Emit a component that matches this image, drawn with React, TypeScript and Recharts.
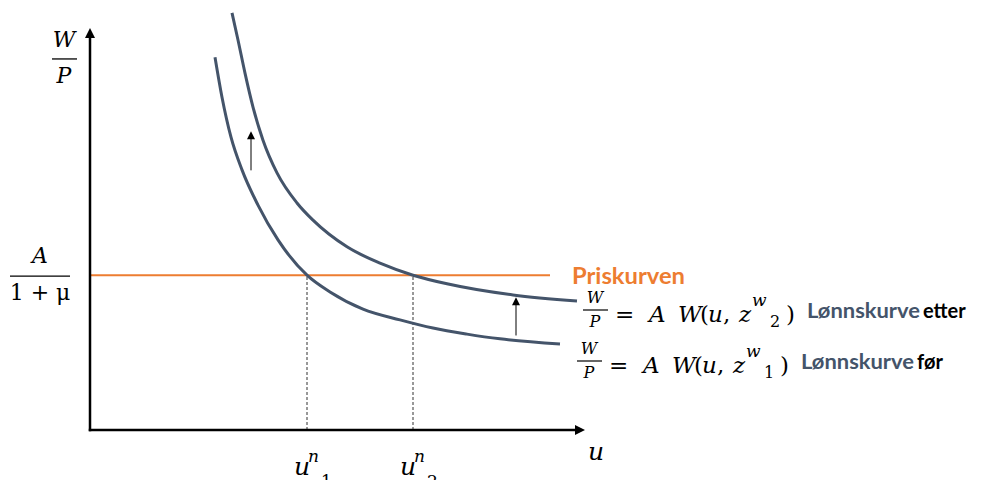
import React from 'react';
import { LineChart, Line, XAxis, YAxis, ReferenceLine, ReferenceDot } from 'recharts';

// Both axes run 0..10 (u on x, W/P on y)
const wageCurveBefore = [
  { x: 2.5, y: 8.67 },
  { x: 2.64, y: 7.74 },
  { x: 2.82, y: 6.81 },
  { x: 3.04, y: 6.05 },
  { x: 3.36, y: 5.23 },
  { x: 3.76, y: 4.42 },
  { x: 4.34, y: 3.6 },
  { x: 4.8, y: 3.21 },
  { x: 5.46, y: 2.81 },
  { x: 6.2, y: 2.56 },
  { x: 6.86, y: 2.37 },
  { x: 7.54, y: 2.23 },
  { x: 8.2, y: 2.12 },
  { x: 9.4, y: 2.0 },
];

const wageCurveAfter = [
  { x: 2.84, y: 9.7 },
  { x: 2.96, y: 9.07 },
  { x: 3.1, y: 8.3 },
  { x: 3.26, y: 7.51 },
  { x: 3.46, y: 6.74 },
  { x: 3.74, y: 5.98 },
  { x: 4.14, y: 5.28 },
  { x: 4.46, y: 4.88 },
  { x: 5.14, y: 4.26 },
  { x: 5.8, y: 3.88 },
  { x: 6.46, y: 3.6 },
  { x: 7.14, y: 3.4 },
  { x: 8.46, y: 3.14 },
  { x: 9.74, y: 3.0 },
];

const priceLevel = 3.6;
const priceCurveEnd = 9.2;
const naturalRates = [4.34, 6.46];
const naturalRateLabels = ['1', '2'];
const axisEnds = { x: 9.9, y: 9.35 };
// shift arrows between the curves: x, from y, to y
const shiftArrows = [
  { x: 3.22, from: 6.05, to: 6.95 },
  { x: 8.52, from: 2.21, to: 3.09 },
];

const MATH = "'DejaVu Serif', serif";
const SANS = "Lato, 'Open Sans', sans-serif";
const CURVE = '#44546A';
const ORANGE = '#ED7D31';

const arrowShape = (width: number, head: number, half: number) => (p: any) => {
  const x1 = Number(p.x1), y1 = Number(p.y1), x2 = Number(p.x2), y2 = Number(p.y2);
  const dx = x2 - x1, dy = y2 - y1;
  const len = Math.hypot(dx, dy) || 1;
  const ux = dx / len, uy = dy / len;
  const bx = x2 - ux * head, by = y2 - uy * head;
  return (
    <g>
      <line x1={x1} y1={y1} x2={bx} y2={by} stroke="#000" strokeWidth={width} strokeLinecap="square" />
      <polygon
        points={`${x2},${y2} ${bx - uy * half},${by + ux * half} ${bx + uy * half},${by - ux * half}`}
        fill="#000"
      />
    </g>
  );
};

const equationShape = (digit: string, word: string, dx: number, dy: number) => (p: any) => {
  const fx = p.cx + dx, fy = p.cy + dy;
  return (
    <g fontFamily={MATH} fill="#000">
      <text x={fx + 12} y={fy - 7} fontSize={16} fontStyle="italic" textAnchor="middle">W</text>
      <line x1={fx} x2={fx + 25} y1={fy} y2={fy} stroke="#000" strokeWidth={1.2} />
      <text x={fx + 12} y={fy + 17} fontSize={16} fontStyle="italic" textAnchor="middle">P</text>
      <text x={fx + 32} y={fy + 12} fontSize={23}>=</text>
      <text x={fx + 66} y={fy + 12} fontSize={23} fontStyle="italic">A</text>
      <text x={fx + 95} y={fy + 12} fontSize={23} fontStyle="italic">W</text>
      <text x={fx + 117} y={fy + 12} fontSize={23}>(</text>
      <text x={fx + 125} y={fy + 12} fontSize={23} fontStyle="italic">u</text>
      <text x={fx + 140} y={fy + 12} fontSize={23}>,</text>
      <text x={fx + 156} y={fy + 12} fontSize={23} fontStyle="italic">z</text>
      <text x={fx + 169} y={fy - 4} fontSize={17} fontStyle="italic">w</text>
      <text x={fx + 187} y={fy + 17} fontSize={16}>{digit}</text>
      <text x={fx + 203} y={fy + 12} fontSize={23}>)</text>
      <text x={fx + 224} y={fy + 8} fontSize={20} fontFamily={SANS} fontWeight="bold" fill={CURVE} textLength={113} lengthAdjust="spacingAndGlyphs">
        Lønnskurve
      </text>
      <text x={fx + 340} y={fy + 8} fontSize={20} fontFamily={SANS} fontWeight="bold" fill="#000">
        {word}
      </text>
    </g>
  );
};

const priceLabelShape = (p: any) => (
  <text x={p.cx + 22} y={p.cy + 9} fontSize={22} fontFamily={SANS} fontWeight="bold" fill={ORANGE} textLength={113} lengthAdjust="spacingAndGlyphs">
    Priskurven
  </text>
);

const yTitleShape = (p: any) => (
  <g fontFamily={MATH} fontStyle="italic" fontSize={22} fill="#000">
    <text x={p.cx - 26} y={p.cy + 19} textAnchor="middle">W</text>
    <line x1={p.cx - 38} x2={p.cx - 13} y1={p.cy + 31} y2={p.cy + 31} stroke="#000" strokeWidth={1.3} />
    <text x={p.cx - 26} y={p.cy + 55} textAnchor="middle">P</text>
  </g>
);

const xTitleShape = (p: any) => (
  <text x={p.cx + 3} y={p.cy + 30} fontFamily={MATH} fontStyle="italic" fontSize={25} fill="#000">u</text>
);

const PriceTick = (p: any) => (
  <g fontFamily={MATH} fontSize={22} fill="#000">
    <text x={p.x - 50} y={p.y - 12} fontStyle="italic" textAnchor="middle">A</text>
    <line x1={p.x - 80} x2={p.x - 20} y1={p.y + 1} y2={p.y + 1} stroke="#000" strokeWidth={1.3} />
    <text x={p.x - 50} y={p.y + 25} textAnchor="middle">1 + μ</text>
  </g>
);

const NaturalRateTick = (p: any) => {
  const i = naturalRates.indexOf(p.payload.value);
  return (
    <g fontFamily={MATH} fill="#000">
      <text x={p.x - 13} y={p.y + 45} fontSize={25} fontStyle="italic">u</text>
      <text x={p.x + 1} y={p.y + 32} fontSize={17} fontStyle="italic">n</text>
      <text x={p.x + 14} y={p.y + 57} fontSize={17}>{naturalRateLabels[i]}</text>
    </g>
  );
};

export default function App() {
  const lastAfter = wageCurveAfter[wageCurveAfter.length - 1];
  const lastBefore = wageCurveBefore[wageCurveBefore.length - 1];
  return (
    <div style={{ position: 'absolute', left: 0, top: 0, background: '#fff' }}>
      <LineChart width={992} height={480} margin={{ top: 0, right: 402, bottom: 0, left: 0 }}>
        <XAxis
          type="number"
          dataKey="x"
          domain={[0, 10]}
          allowDataOverflow
          ticks={naturalRates}
          interval={0}
          height={50}
          axisLine={false}
          tickLine={false}
          tickSize={0}
          tickMargin={0}
          tick={NaturalRateTick}
        />
        <YAxis
          type="number"
          dataKey="y"
          domain={[0, 10]}
          allowDataOverflow
          ticks={[priceLevel]}
          interval={0}
          width={90}
          axisLine={false}
          tickLine={false}
          tickSize={0}
          tickMargin={0}
          tick={PriceTick}
        />

        {/* dashed drop lines to the natural rates */}
        {naturalRates.map((u) => (
          <ReferenceLine
            key={u}
            segment={[{ x: u, y: 0 }, { x: u, y: priceLevel }]}
            stroke="#333"
            strokeWidth={1}
            strokeDasharray="3 2"
          />
        ))}

        {/* price curve */}
        <ReferenceLine
          segment={[{ x: 0, y: priceLevel }, { x: priceCurveEnd, y: priceLevel }]}
          stroke={ORANGE}
          strokeWidth={2}
        />

        <Line data={wageCurveBefore} dataKey="y" type="monotone" stroke={CURVE} strokeWidth={3} dot={false} activeDot={false} isAnimationActive={false} />
        <Line data={wageCurveAfter} dataKey="y" type="monotone" stroke={CURVE} strokeWidth={3} dot={false} activeDot={false} isAnimationActive={false} />

        {/* axes with arrow heads */}
        <ReferenceLine segment={[{ x: 0, y: 0 }, { x: 0, y: axisEnds.y }]} shape={arrowShape(2.5, 10, 5)} />
        <ReferenceLine segment={[{ x: 0, y: 0 }, { x: axisEnds.x, y: 0 }]} shape={arrowShape(2.5, 10, 5)} />

        {shiftArrows.map((a) => (
          <ReferenceLine key={a.x} segment={[{ x: a.x, y: a.from }, { x: a.x, y: a.to }]} shape={arrowShape(1, 8, 4)} />
        ))}

        <ReferenceDot x={0} y={axisEnds.y} shape={yTitleShape} />
        <ReferenceDot x={axisEnds.x} y={0} shape={xTitleShape} />
        <ReferenceDot x={priceCurveEnd} y={priceLevel} shape={priceLabelShape} />
        <ReferenceDot x={lastAfter.x} y={lastAfter.y} shape={equationShape('2', 'etter', 6, 9)} />
        <ReferenceDot x={lastBefore.x} y={lastBefore.y} shape={equationShape('1', 'før', 17, 17)} />
      </LineChart>
    </div>
  );
}
